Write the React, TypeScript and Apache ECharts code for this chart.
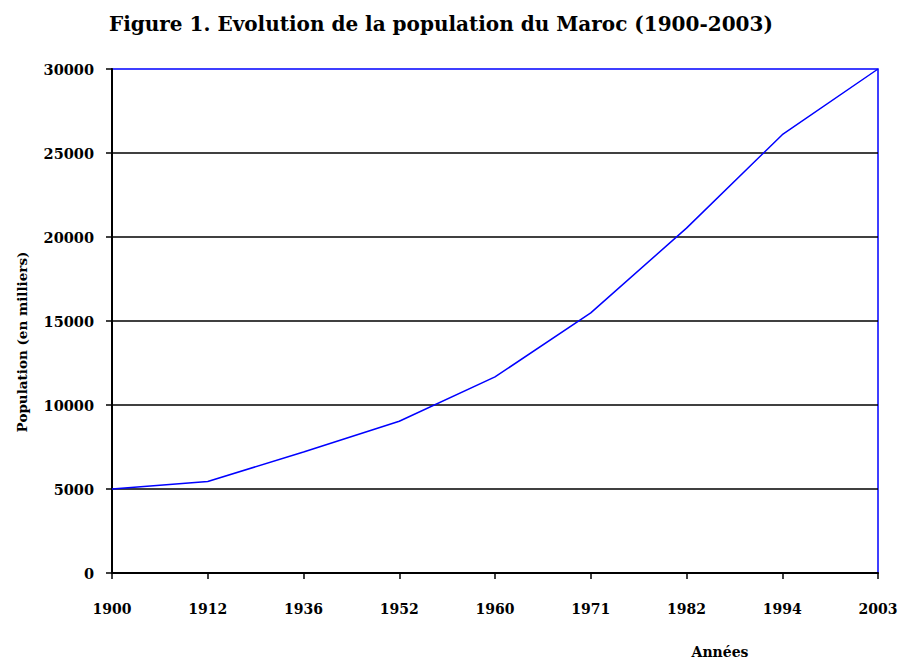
import React, { useEffect, useRef } from "react";
import * as echarts from "echarts";

const years = ["1900", "1912", "1936", "1952", "1960", "1971", "1982", "1994", "2003"];
const population = [5000, 5450, 7200, 9030, 11670, 15480, 20530, 26090, 30000];
const yTicks = { min: 0, max: 30000, interval: 5000 };

const FONT = "'DejaVu Serif', 'Liberation Serif', serif";

export default function App() {
  const ref = useRef<HTMLDivElement>(null);
  useEffect(() => {
    if (!ref.current) return;
    const chart = echarts.init(ref.current, undefined, { renderer: "svg" });
    chart.setOption({
      animation: false,
      backgroundColor: "#ffffff",
      title: {
        text: "Figure 1. Evolution de la population du Maroc (1900-2003)",
        left: 104,
        top: 9,
        textStyle: { fontFamily: FONT, fontWeight: "bold", fontSize: 20, color: "#000" },
      },
      grid: {
        left: 112,
        right: 26,
        top: 69,
        bottom: 93,
        show: true,
        borderColor: "#0000FF",
        borderWidth: 1.5,
        backgroundColor: "transparent",
      },
      xAxis: {
        type: "category",
        data: years,
        boundaryGap: false,
        axisLine: { show: true, lineStyle: { color: "#000", width: 2 } },
        axisTick: { show: true, inside: false, length: 6, alignWithLabel: true, lineStyle: { color: "#000", width: 1.5 } },
        axisLabel: {
          margin: 29,
          fontFamily: FONT,
          fontWeight: "bold",
          fontSize: 14,
          color: "#000",
        },
        splitLine: { show: false },
      },
      yAxis: {
        type: "value",
        min: yTicks.min,
        max: yTicks.max,
        interval: yTicks.interval,
        axisLine: { show: true, lineStyle: { color: "#000", width: 2 } },
        axisTick: { show: true, length: 6, lineStyle: { color: "#000", width: 1.5 } },
        axisLabel: {
          margin: 18,
          fontFamily: FONT,
          fontWeight: "bold",
          fontSize: 14.5,
          color: "#000",
          formatter: (v: number) => String(v),
        },
        splitLine: { show: true, showMinLine: false, showMaxLine: false, lineStyle: { color: "#000", width: 1.5 } },
      },
      graphic: [
        {
          type: "text",
          x: 22,
          y: 342,
          rotation: Math.PI / 2,
          style: {
            text: "Population (en milliers)",
            fontFamily: FONT,
            fontWeight: "bold",
            fontSize: 13.5,
            fill: "#000",
            textAlign: "center",
            textVerticalAlign: "middle",
          },
        },
        {
          type: "text",
          x: 720,
          y: 652,
          style: {
            text: "Années",
            fontFamily: FONT,
            fontWeight: "bold",
            fontSize: 14,
            fill: "#000",
            textAlign: "center",
            textVerticalAlign: "middle",
          },
        },
      ],
      series: [
        {
          type: "line",
          data: population,
          symbol: "none",
          lineStyle: { color: "#0000FF", width: 1.5 },
        },
      ],
    });
    return () => chart.dispose();
  }, []);
  return (
    <div
      ref={ref}
      style={{ position: "absolute", left: 0, top: 0, width: 904, height: 666 }}
    />
  );
}
